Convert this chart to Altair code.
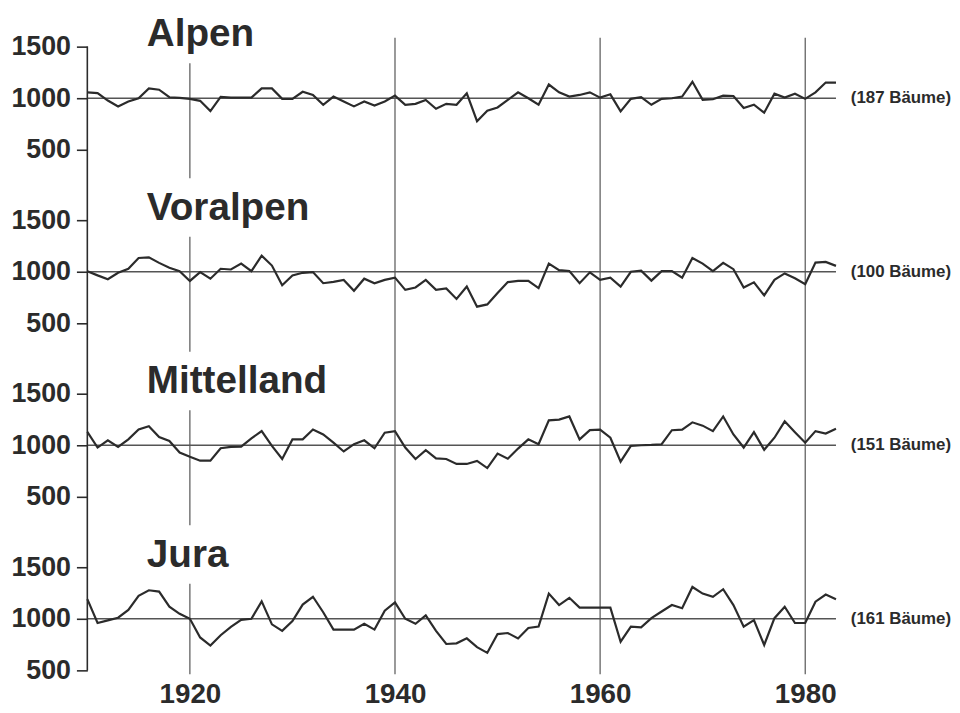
import altair as alt
import pandas as pd

years = list(range(1910, 1984))

regions = ["Alpen", "Voralpen", "Mittelland", "Jura"]
trees = ["(187 Bäume)", "(100 Bäume)", "(151 Bäume)", "(161 Bäume)"]

alpen = [1057, 1050, 978, 921, 968, 1000, 1095, 1083, 1010, 1003,
         994, 975, 876, 1013, 1006, 1006, 1006, 1095, 1095, 994,
         994, 1063, 1032, 937, 1016, 968, 921, 968, 930, 968,
         1025, 937, 946, 984, 898, 946, 937, 1048, 778, 879,
         911, 984, 1057, 1000, 937, 1133, 1057, 1016, 1032, 1057,
         1006, 1038, 873, 994, 1010, 937, 994, 1000, 1016, 1159,
         984, 990, 1025, 1022, 905, 937, 860, 1044, 1006, 1044,
         994, 1057, 1152, 1152]

voralpen = [1006, 965, 927, 990, 1029, 1133, 1140, 1086, 1038, 1006,
            911, 997, 933, 1029, 1022, 1079, 1006, 1156, 1060, 870,
            965, 990, 997, 889, 902, 921, 816, 933, 889, 921,
            943, 825, 848, 921, 825, 838, 737, 857, 662, 684,
            794, 900, 911, 911, 841, 1079, 1016, 1006, 889, 994,
            921, 943, 857, 1000, 1010, 914, 1006, 1006, 943, 1133,
            1079, 1006, 1086, 1025, 848, 898, 771, 921, 984, 937,
            879, 1089, 1095, 1057]

mittelland = [1130, 978, 1048, 984, 1057, 1152, 1184, 1079, 1041, 930,
              889, 851, 851, 971, 984, 987, 1067, 1137, 994, 867,
              1057, 1057, 1152, 1105, 1025, 940, 1010, 1048, 971, 1121,
              1137, 978, 867, 952, 873, 867, 819, 819, 848, 779,
              919, 870, 968, 1057, 1010, 1241, 1248, 1279, 1057, 1146,
              1152, 1073, 841, 994, 1000, 1003, 1010, 1146, 1152, 1222,
              1190, 1137, 1279, 1105, 978, 1127, 956, 1073, 1232, 1127,
              1025, 1137, 1114, 1159]

jura = [1190, 959, 984, 1010, 1086, 1222, 1276, 1263, 1117, 1048,
        1000, 819, 740, 841, 921, 990, 1000, 1168, 946, 883,
        978, 1137, 1213, 1063, 895, 895, 895, 952, 895, 1079,
        1159, 1000, 952, 1032, 883, 756, 762, 810, 725, 670,
        852, 862, 810, 911, 924, 1244, 1133, 1203, 1108, 1108,
        1108, 1108, 778, 924, 917, 1006, 1070, 1133, 1102, 1308,
        1244, 1213, 1286, 1133, 924, 987, 746, 1006, 1117, 959,
        959, 1165, 1235, 1190]

series = [alpen, voralpen, mittelland, jura]
tick_levels = [500, 1000, 1500]
x_ticks = [1920, 1940, 1960, 1980]

# vertical stacking of the four panels on one shared scale
STEP = 1680
offsets = [3 * STEP, 2 * STEP, STEP, 0]
Y_MIN, Y_MAX = 462, 3 * STEP + 1586
X_MIN, X_MAX = 1910, 1983
TITLE_X = 1915.8
TITLE_Y = 1505

rows = []
for r, off, vals in zip(regions, offsets, series):
    for yr, v in zip(years, vals):
        rows.append({"region": r, "year": yr, "value": v, "yp": v + off})
lines_df = pd.DataFrame(rows)

ref_df = pd.DataFrame({"region": regions, "x1": X_MIN, "x2": X_MAX,
                       "y": [o + 1000 for o in offsets], "label": trees})
title_df = pd.DataFrame({"region": regions, "x": TITLE_X,
                         "y": [o + TITLE_Y for o in offsets]})

# vertical grid lines; the 1920 one is interrupted where the titles sit
grid_rows = []
for yr in x_ticks[1:]:
    grid_rows.append({"year": yr, "y1": Y_MIN, "y2": Y_MAX})
gap_lo, gap_hi = TITLE_Y - 165, TITLE_Y + 400
bounds = [Y_MIN]
for off in sorted(offsets):
    bounds += [off + gap_lo, off + gap_hi]
bounds.append(Y_MAX)
for i in range(0, len(bounds) - 1, 2):
    lo, hi = bounds[i], min(bounds[i + 1], Y_MAX)
    if hi > lo:
        grid_rows.append({"year": x_ticks[0], "y1": lo, "y2": hi})
grid_df = pd.DataFrame(grid_rows)

axis_df = pd.DataFrame({"x": [X_MIN], "y1": [tick_levels[0]],
                        "y2": [offsets[0] + tick_levels[-1]]})

y_values = sorted(o + t for o in offsets for t in tick_levels)

INK = "#2b2b2b"
GRID = "#555555"

xscale = alt.Scale(domain=[X_MIN, X_MAX], nice=False, zero=False)
yscale = alt.Scale(domain=[Y_MIN, Y_MAX], nice=False, zero=False)

xaxis = alt.Axis(values=x_ticks, title=None, ticks=False, domain=False,
                 grid=False, labelFontSize=28, labelFont="Liberation Sans",
                 labelFontWeight="bold", labelColor=INK, labelPadding=6,
                 format="d", labelFlush=False)
yaxis = alt.Axis(values=y_values, title=None, domain=False, grid=False,
                 tickSize=11, tickColor=INK, tickWidth=1.6, labelFontSize=27,
                 labelFont="Liberation Sans", labelFontWeight="bold",
                 labelColor=INK, labelPadding=6, labelFlush=False,
                 labelExpr=f"datum.value % {STEP}")


def X(field):
    return alt.X(field, type="quantitative", scale=xscale, axis=xaxis)


def Y(field):
    return alt.Y(field, type="quantitative", scale=yscale, axis=yaxis)


grid = alt.Chart(grid_df).mark_rule(color=GRID, strokeWidth=1.2).encode(
    x=X("year"), y=Y("y1"), y2="y2:Q",
)

refs = alt.Chart(ref_df).mark_rule(color=GRID, strokeWidth=1.4).encode(
    x=X("x1"), x2="x2:Q", y=Y("y"),
)

yaxis_line = alt.Chart(axis_df).mark_rule(color=INK, strokeWidth=1.6).encode(
    x=X("x"), y=Y("y1"), y2="y2:Q",
)

lines = alt.Chart(lines_df).mark_line(color=INK, strokeWidth=2.2,
                                      strokeJoin="miter").encode(
    x=X("year"), y=Y("yp"), detail="region:N",
)

titles = alt.Chart(title_df).mark_text(
    align="left", baseline="alphabetic", fontSize=39, fontWeight="bold",
    font="Liberation Sans", color=INK,
).encode(
    x=X("x"), y=Y("y"), text="region:N",
)

counts = alt.Chart(ref_df).mark_text(
    align="left", baseline="middle", dx=15, fontSize=17, fontWeight="bold",
    font="Liberation Sans", color=INK,
).encode(
    x=X("x2"), y=Y("y"), text="label:N",
)

chart = alt.layer(grid, refs, yaxis_line, lines, titles, counts).properties(
    width=755, height=642,
    autosize=alt.AutoSizeParams(type="none"),
    padding={"left": 80, "top": 27, "right": 117, "bottom": 34},
    background="white",
).configure_view(stroke=None)

chart.save("out.html", embed_options={"renderer": "svg", "actions": False})
